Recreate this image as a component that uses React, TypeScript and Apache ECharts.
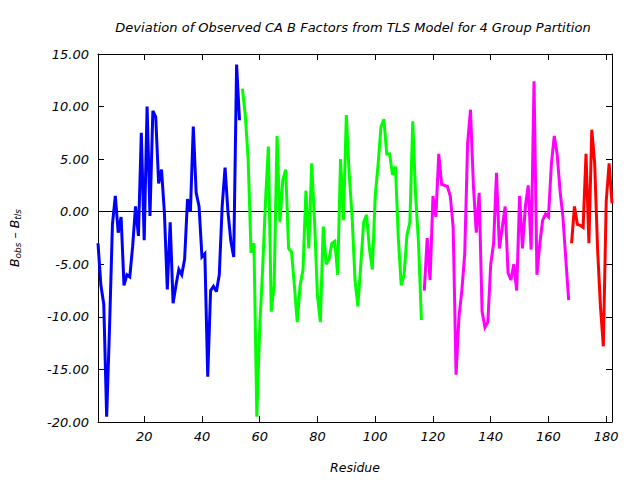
import React, { useEffect, useRef } from "react";
import * as echarts from "echarts";

// Residue numbers where each TLS group starts
const blueStart = 4;
const greenStart = 54;
const magentaStart = 117;
const redStart = 168;

// B_obs - B_tls per residue
const blueValues = [
  -3.0, -7.0, -8.8, -19.5, -11.0, -1.2, 1.5, -2.0, -0.5, -7.0,
  -6.0, -6.2, -3.3, 0.5, -2.3, 7.5, -2.7, 10.0, -0.4, 9.6,
  9.0, 2.7, 4.0, -0.1, -7.4, -1.0, -8.7, -7.0, -5.5, -6.0,
  -4.5, 1.2, 0.0, 8.1, 1.8, 0.5, -4.3, -4.0, -15.7, -7.5,
  -7.1, -7.6, -6.0, 0.5, 4.2, 0.0, -2.8, -4.3, 14.0, 8.7,
];
const greenValues = [
  11.7, 9.2, 5.0, -3.9, -3.0, -19.5, -11.0, -5.5, 1.0, 6.2,
  -9.5, -7.0, 7.2, -1.0, 3.0, 4.0, -3.5, -3.8, -7.0, -10.5,
  -7.0, -5.5, 2.0, -3.5, 4.6, -1.0, -8.0, -10.5, -1.4, -5.0,
  -4.5, -3.0, -2.8, -6.0, 5.0, -0.8, 9.2, 3.5, -0.5, -6.5,
  -9.0, -5.0, -1.0, -0.3, -3.5, -5.5, 1.5, 4.5, 8.1, 8.8,
  5.5, 5.5, 3.5, 4.3, -2.5, -7.0, -6.0, -2.2, -1.0, 8.6,
  1.5, -3.0, -10.3,
];
const magentaValues = [
  -7.5, -2.5, -6.5, 1.5, -0.5, 5.5, 2.6, 2.5, 2.4, 1.5,
  -1.5, -15.5, -10.0, -7.5, -4.0, 6.5, 9.7, 2.5, -2.0, 1.8,
  -9.5, -11.0, -10.5, -5.0, -3.0, 3.7, -3.5, -1.5, 0.5, -5.8,
  -6.5, -5.0, -7.5, 1.5, -3.5, 0.5, 2.5, -3.6, 12.4, -6.0,
  -3.0, -0.8, -0.2, -0.5, 4.5, 7.2, 5.5, 2.0, -0.5, -4.5,
  -8.4,
];
const redValues = [
  -3.0, 0.5, -1.2, -1.3, -1.5, 5.5, -3.0, 7.8, 4.6, -3.5,
  -9.0, -12.8, 1.0, 4.6, 0.8,
];

const xTicks = [20, 40, 60, 80, 100, 120, 140, 160, 180];
const xMin = 4;
const xMax = 182;
const yMin = -20;
const yMax = 15;
const yStep = 5;

const titleText =
  "Deviation of Observed CA B Factors from TLS Model for 4 Group Partition";

const toPairs = (start: number, values: number[]) =>
  values.map((v, i) => [start + i, v]);

const FONT = "DejaVu Sans";

export default function App() {
  const ref = useRef<HTMLDivElement>(null);

  useEffect(() => {
    if (!ref.current) return;
    const chart = echarts.init(ref.current, undefined, { renderer: "svg" });

    const lineSeries = (name: string, start: number, values: number[], color: string) => ({
      name,
      type: "line",
      data: toPairs(start, values),
      showSymbol: false,
      symbol: "none",
      lineStyle: { color, width: 3, join: "miter", miterLimit: 3 },
      itemStyle: { color },
      z: 3,
    });

    const axisLine = {
      show: true,
      onZero: false,
      lineStyle: { color: "#000", width: 1 },
    };

    chart.setOption({
      animation: false,
      backgroundColor: "#fff",
      grid: { left: 94, right: 28, top: 54, bottom: 58 },
      graphic: [
        {
          type: "text",
          x: 353,
          y: 27,
          style: {
            text: titleText,
            font: `italic 13px "${FONT}"`,
            fill: "#000",
            textAlign: "center",
            textVerticalAlign: "middle",
          },
        },
      ],
      xAxis: [
        {
          type: "value",
          min: xMin,
          max: xMax,
          position: "bottom",
          axisLine,
          splitLine: { show: false },
          axisTick: {
            show: true,
            inside: true,
            length: 6,
            customValues: xTicks,
            lineStyle: { color: "#000" },
          },
          axisLabel: {
            show: true,
            customValues: xTicks,
            color: "#000",
            fontFamily: FONT,
            fontStyle: "italic",
            fontSize: 13,
            margin: 8,
          },
          name: "Residue",
          nameLocation: "middle",
          nameGap: 39,
          nameTextStyle: {
            color: "#000",
            fontFamily: FONT,
            fontStyle: "italic",
            fontSize: 12.5,
          },
        },
        {
          type: "value",
          min: xMin,
          max: xMax,
          position: "top",
          axisLine,
          splitLine: { show: false },
          axisTick: {
            show: true,
            inside: true,
            length: 6,
            customValues: xTicks,
            lineStyle: { color: "#000" },
          },
          axisLabel: { show: false },
        },
      ],
      yAxis: [
        {
          type: "value",
          min: yMin,
          max: yMax,
          interval: yStep,
          position: "left",
          axisLine,
          splitLine: { show: false },
          axisTick: { show: true, inside: true, length: 6, lineStyle: { color: "#000" } },
          axisLabel: {
            color: "#000",
            fontFamily: FONT,
            fontStyle: "italic",
            fontSize: 13,
            margin: 9,
            formatter: (v: number) => v.toFixed(2),
          },
          name: "B{sub|obs} \u2013 B{sub|tls}",
          nameLocation: "middle",
          nameGap: 76,
          nameRotate: 90,
          nameTextStyle: {
            color: "#000",
            fontFamily: FONT,
            fontStyle: "italic",
            fontSize: 12.5,
            rich: {
              sub: {
                fontFamily: FONT,
                fontStyle: "italic",
                fontSize: 9,
                color: "#000",
                verticalAlign: "bottom",
                padding: [6, 0, 0, 0],
              },
            },
          },
        },
        {
          type: "value",
          min: yMin,
          max: yMax,
          interval: yStep,
          position: "right",
          axisLine,
          splitLine: { show: false },
          axisTick: { show: true, inside: true, length: 6, lineStyle: { color: "#000" } },
          axisLabel: { show: false },
        },
      ],
      series: [
        {
          ...lineSeries("group1", blueStart, blueValues, "#0000ff"),
          markLine: {
            silent: true,
            symbol: "none",
            label: { show: false },
            lineStyle: { color: "#000", width: 1, type: "solid" },
            data: [{ yAxis: 0 }],
            z: 1,
          },
        },
        lineSeries("group2", greenStart, greenValues, "#00ff00"),
        lineSeries("group3", magentaStart, magentaValues, "#ff00ff"),
        lineSeries("group4", redStart, redValues, "#ff0000"),
      ],
    });

    return () => chart.dispose();
  }, []);

  return (
    <div
      ref={ref}
      style={{ position: "absolute", left: 0, top: 0, width: 640, height: 480 }}
    />
  );
}
